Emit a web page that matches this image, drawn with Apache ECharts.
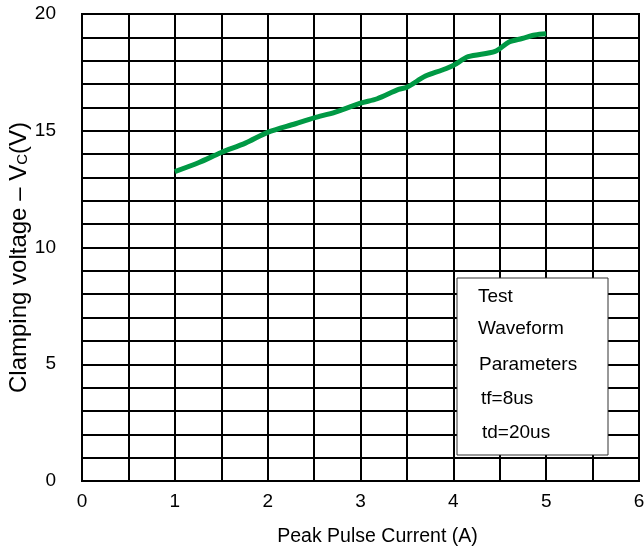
<!DOCTYPE html>
<html><head><meta charset="utf-8">
<script src="https://cdn.jsdelivr.net/npm/echarts@6/dist/echarts.min.js"></script>
<style>html,body{margin:0;padding:0;background:#fff}#c{width:644px;height:551px}</style>
</head><body><div id="c"></div>
<script>
var current = [1.0, 1.26, 1.5, 1.76, 2.0, 2.3, 2.5, 2.73, 3.0, 3.18, 3.41, 3.5, 3.7, 3.88, 4.0, 4.16, 4.45, 4.6, 4.74, 4.88, 5.0];
var voltage = [13.25, 13.64, 14.07, 14.47, 14.93, 15.3, 15.55, 15.8, 16.18, 16.37, 16.77, 16.86, 17.34, 17.6, 17.8, 18.17, 18.4, 18.8, 18.95, 19.1, 19.15];
var xTickLabels = ['0','1','2','3','4','5','6'];
var yTickLabels = ['0','5','10','15','20'];
var boxLines = ['Test','Waveform','Parameters','tf=8us','td=20us'];
var xName = 'Peak Pulse Current (A)';

var pts = current.map(function(x,i){return [x, voltage[i]];});
var font = 'Liberation Sans, Arial, sans-serif';
var chart = echarts.init(document.getElementById('c'), null, {renderer:'canvas'});
var textEls = boxLines.map(function(t,i){
  var ys = [297, 329, 365, 399, 433];
  var xs = [478, 478, 479, 481, 482];
  return {type:'text', x: xs[i], y: ys[i], z:101,
    style:{text:t, fill:'#000', font:'19px ' + font, verticalAlign:'middle', align:'left'}};
});
chart.setOption({
  animation:false,
  grid:{left:82, right:5, top:14, bottom:70, show:true, borderColor:'#000', borderWidth:2,
    containLabel:false, outerBoundsMode:'none'},
  xAxis:{type:'value', min:0, max:6, interval:0.5,
    name:xName, nameLocation:'middle', nameGap:46, nameMoveOverlap:false,
    nameTextStyle:{color:'#000', fontSize:19.5, fontFamily:font, padding:[0,0,0,34]},
    axisLine:{show:true, lineStyle:{color:'#000', width:2}},
    axisTick:{show:false},
    splitLine:{show:true, lineStyle:{color:'#000', width:2}},
    axisLabel:{color:'#000', fontSize:19, fontFamily:font, margin:11,
      formatter:function(v){ return (Math.abs(v-Math.round(v))<1e-6) ? xTickLabels[Math.round(v)] : ''; }}
  },
  yAxis:{type:'value', min:0, max:20, interval:1,
    name:'{a|Clamping voltage – V}{s|C}{a|(V)}', nameLocation:'middle', nameGap:51, nameRotate:90,
    nameMoveOverlap:false,
    nameTextStyle:{padding:[0,20,0,0], rich:{a:{color:'#000', fontSize:24, fontFamily:font}, s:{color:'#000', fontSize:15, fontFamily:font, padding:[8,0,0,0]}}},
    axisLine:{show:true, lineStyle:{color:'#000', width:2}},
    axisTick:{show:false},
    splitLine:{show:true, lineStyle:{color:'#000', width:2}},
    axisLabel:{color:'#000', fontSize:19, fontFamily:font, margin:26,
      formatter:function(v){ return (Math.round(v)%5===0) ? yTickLabels[Math.round(v)/5] : ''; }}
  },
  series:[{type:'line', data:pts, smooth:0.3, symbol:'none',
    lineStyle:{color:'#009944', width:5}, z:5}],
  graphic:[{type:'rect', shape:{x:457, y:278, width:151, height:177}, z:100,
    style:{fill:'#fff', stroke:'#333', lineWidth:1}}].concat(textEls)
});
</script></body></html>
